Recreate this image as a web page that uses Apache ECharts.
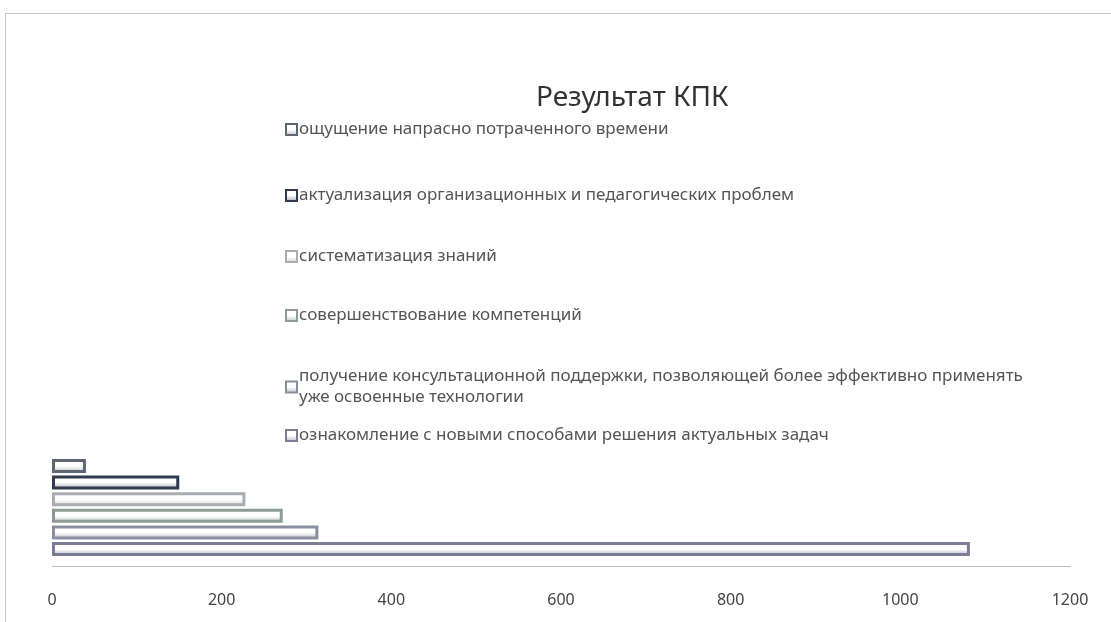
<!DOCTYPE html>
<html>
<head>
<meta charset="utf-8">
<script src="https://cdn.jsdelivr.net/npm/echarts@6/dist/echarts.min.js"></script>
<style>
html,body{margin:0;padding:0;background:#fff;}
#chart{width:1111px;height:622px;}
</style>
</head>
<body>
<div id="chart"></div>
<script>
const seriesNames = [
  'ощущение напрасно потраченного времени',
  'актуализация организационных и педагогических проблем',
  'систематизация знаний',
  'совершенствование компетенций',
  'получение консультационной поддержки, позволяющей более эффективно применять уже освоенные технологии',
  'ознакомление с новыми способами решения актуальных задач'
];
const seriesValues = [40, 150, 228, 272, 314, 1082];
const categories = ['Результат'];
const xTicks = { min: 0, max: 1200, interval: 200 };

const borderColors = ['#5d6673', '#2f3a4f', '#a9adb2', '#8d9c94', '#8a8fa0', '#7b7d92'];
const tintColors   = ['#b8bcc4', '#9aa1b0', '#d2d4d6', '#b9c9c0', '#b8bbca', '#b4b5c6'];
const legendTops = [114, 180, 241, 300, 361, 420];

const chart = echarts.init(document.getElementById('chart'));

const series = seriesNames.map((n, i) => ({
  name: n,
  type: 'bar',
  data: [seriesValues[i]],
  barCategoryGap: '0%',
  barGap: '19%',
  itemStyle: {
    color: {
      type: 'linear', x: 0, y: 0, x2: 0, y2: 1,
      colorStops: [
        { offset: 0, color: '#ffffff' },
        { offset: 0.5, color: '#ffffff' },
        { offset: 1, color: tintColors[i] }
      ]
    },
    borderColor: borderColors[i],
    borderWidth: 3
  }
}));

const legends = seriesNames.map((n, i) => ({
  data: [n],
  left: 280,
  top: legendTops[i],
  orient: 'vertical',
  icon: 'rect',
  itemWidth: 11,
  itemHeight: 11,
  itemGap: 0,
  selectedMode: false,
  textStyle: {
    fontFamily: 'Noto Sans',
    fontSize: 17,
    color: '#555',
    lineHeight: 21,
    padding: [0, 0, 0, -3]
  },
  formatter: function (name) {
    return name.replace('применять ', 'применять\n');
  }
}));

chart.setOption({
  animation: false,
  backgroundColor: '#ffffff',
  title: {
    text: 'Результат КПК',
    left: 531,
    top: 79,
    textStyle: {
      fontFamily: 'Noto Sans',
      fontSize: 28,
      fontWeight: 'normal',
      color: '#333'
    }
  },
  graphic: [{
    type: 'rect',
    shape: { x: 5.5, y: 13.5, width: 1200, height: 700 },
    style: { fill: 'none', stroke: '#c4c4c4', lineWidth: 1 },
    silent: true
  }],
  legend: legends,
  grid: { left: 52, right: 41, top: 459, bottom: 66, containLabel: false },
  xAxis: {
    type: 'value',
    min: xTicks.min,
    max: xTicks.max,
    interval: xTicks.interval,
    offset: 10,
    axisLine: { show: true, lineStyle: { color: '#bdbdbd', width: 1 } },
    axisTick: { show: false },
    splitLine: { show: false },
    axisLabel: {
      margin: 26,
      fontFamily: 'Noto Sans',
      fontSize: 16,
      color: '#444',
      formatter: function (v) { return String(v); }
    }
  },
  yAxis: {
    type: 'category',
    data: categories,
    show: false
  },
  series: series
});
</script>
</body>
</html>
